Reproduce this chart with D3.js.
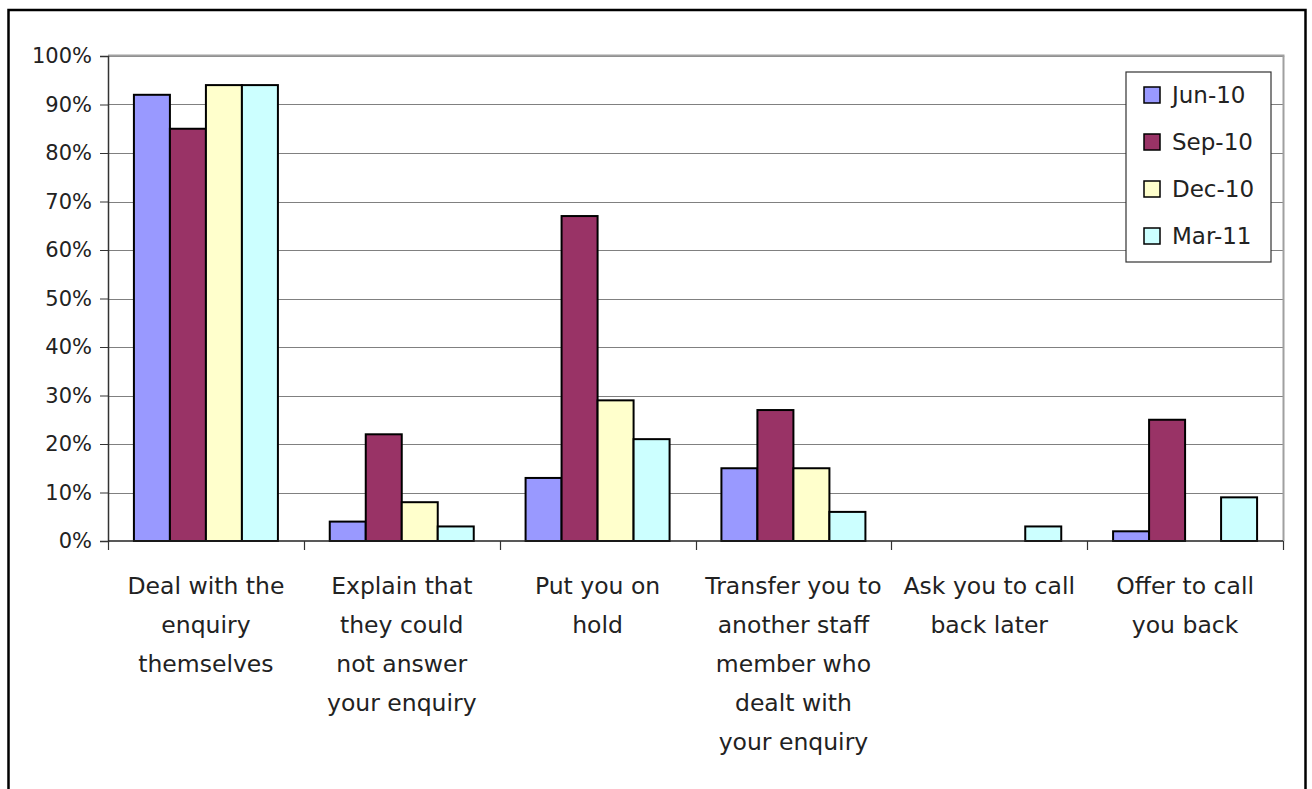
<!DOCTYPE html>
<html>
<head>
<meta charset="utf-8">
<script src="https://cdn.jsdelivr.net/npm/d3@7"></script>
<style>
  body { margin: 0; background: #fff; }
  text { font-family: "DejaVu Sans", sans-serif; fill: #222; }
</style>
</head>
<body>
<div id="graph"></div>
<script>
const categories = [
  ["Deal with the", "enquiry", "themselves"],
  ["Explain that", "they could", "not answer", "your enquiry"],
  ["Put you on", "hold"],
  ["Transfer you to", "another staff", "member who", "dealt with", "your enquiry"],
  ["Ask you to call", "back later"],
  ["Offer to call", "you back"]
]
const seriesNames = ["Jun-10", "Sep-10", "Dec-10", "Mar-11"]
const jun10 = [92, 4, 13, 15, 0, 2]
const sep10 = [85, 22, 67, 27, 0, 25]
const dec10 = [94, 8, 29, 15, 0, 0]
const mar11 = [94, 3, 21, 6, 3, 9]
const yTicks = [0, 10, 20, 30, 40, 50, 60, 70, 80, 90, 100]
const colors = ["#9999ff", "#993366", "#ffffcc", "#ccffff"]

const W = 1312, H = 789
const margin = {top: 56, right: 29, bottom: 248, left: 108}
const width = W - margin.left - margin.right
const height = H - margin.top - margin.bottom

const svg = d3.select("#graph")
  .append("svg")
  .attr("width", W)
  .attr("height", H)

// outer frame
svg.append("rect")
  .attr("x", 8.5).attr("y", 10)
  .attr("width", 1297).attr("height", 790)
  .attr("fill", "none")
  .attr("stroke", "#000")
  .attr("stroke-width", 2.5)

const g = svg.append("g")
  .attr("transform", "translate(" + margin.left + "," + margin.top + ")")

const keys = categories.map((d, i) => i)
const x = d3.scaleBand().domain(keys).range([0, width])
const x1 = d3.scaleBand().domain(seriesNames).range([0, x.bandwidth()])
  .paddingInner(0).paddingOuter(0.72)
const y = d3.scaleLinear().domain([0, 100]).range([height, 0])

// gridlines
g.append("g")
  .selectAll("line")
  .data(yTicks.filter(d => d > 0))
  .join("line")
  .attr("x1", 0).attr("x2", width)
  .attr("y1", d => Math.round(y(d)) + 0.5)
  .attr("y2", d => Math.round(y(d)) + 0.5)
  .attr("stroke", "#808080")
  .attr("stroke-width", 1.2)

// right + top border of plot area
g.append("line")
  .attr("x1", width + 0.5).attr("x2", width + 0.5)
  .attr("y1", 0).attr("y2", height)
  .attr("stroke", "#a0a0a0")
  .attr("stroke-width", 2)
g.append("line")
  .attr("x1", 0).attr("x2", width + 1.5)
  .attr("y1", -0.5).attr("y2", -0.5)
  .attr("stroke", "#a0a0a0")
  .attr("stroke-width", 2)

// bars
const series = [jun10, sep10, dec10, mar11]
series.forEach((vals, si) => {
  g.append("g")
    .selectAll("rect")
    .data(vals)
    .join("rect")
    .attr("x", (d, i) => x(i) + x1(seriesNames[si]))
    .attr("y", d => y(d))
    .attr("width", x1.bandwidth())
    .attr("height", d => height - y(d))
    .attr("fill", colors[si])
    .attr("stroke", d => d > 0 ? "#000" : "none")
    .attr("stroke-width", 2)
})

// y axis
const yAxis = g.append("g")
  .call(d3.axisLeft(y).tickValues(yTicks).tickFormat(d => d + "%").tickSizeOuter(0).tickSize(8))
yAxis.select(".domain").attr("stroke", "#333").attr("stroke-width", 1.5)
yAxis.selectAll(".tick line").attr("stroke", "#333")
yAxis.selectAll(".tick text")
  .attr("x", -16)
  .style("font-size", "21px")
  .style("font-family", "DejaVu Sans, sans-serif")
  .attr("fill", "#222")

// x axis
const xAxisG = g.append("g").attr("transform", "translate(0," + height + ")")
xAxisG.append("line")
  .attr("x1", 0).attr("x2", width)
  .attr("stroke", "#222").attr("stroke-width", 1.5)
xAxisG.selectAll(".xtick")
  .data(d3.range(categories.length + 1))
  .join("line")
  .attr("class", "xtick")
  .attr("x1", d => Math.round(d * x.step()) + 0.5)
  .attr("x2", d => Math.round(d * x.step()) + 0.5)
  .attr("y1", 0).attr("y2", 9)
  .attr("stroke", "#333").attr("stroke-width", 1.2)

// category labels
const lab = xAxisG.selectAll(".xlab")
  .data(categories)
  .join("text")
  .attr("class", "xlab")
  .attr("text-anchor", "middle")
  .style("font-size", "23.5px")
  .attr("transform", (d, i) => "translate(" + (x(i) + x.bandwidth() / 2) + ",53)")
lab.selectAll("tspan")
  .data(d => d)
  .join("tspan")
  .attr("x", 0)
  .attr("y", (d, i) => i * 39)
  .text(d => d)

// legend
const legend = svg.append("g").attr("transform", "translate(1126,72)")
legend.append("rect")
  .attr("width", 145).attr("height", 190)
  .attr("fill", "#fff")
  .attr("stroke", "#333").attr("stroke-width", 1.2)
const item = legend.selectAll(".item")
  .data(seriesNames)
  .join("g")
  .attr("class", "item")
  .attr("transform", (d, i) => "translate(18," + (23 + i * 47) + ")")
item.append("rect")
  .attr("x", 0).attr("y", -8)
  .attr("width", 16).attr("height", 16)
  .attr("fill", (d, i) => colors[i])
  .attr("stroke", "#000").attr("stroke-width", 1.5)
item.append("text")
  .attr("x", 28).attr("y", 0)
  .attr("dy", "0.36em")
  .style("font-size", "23px")
  .text(d => d)
</script>
</body>
</html>
